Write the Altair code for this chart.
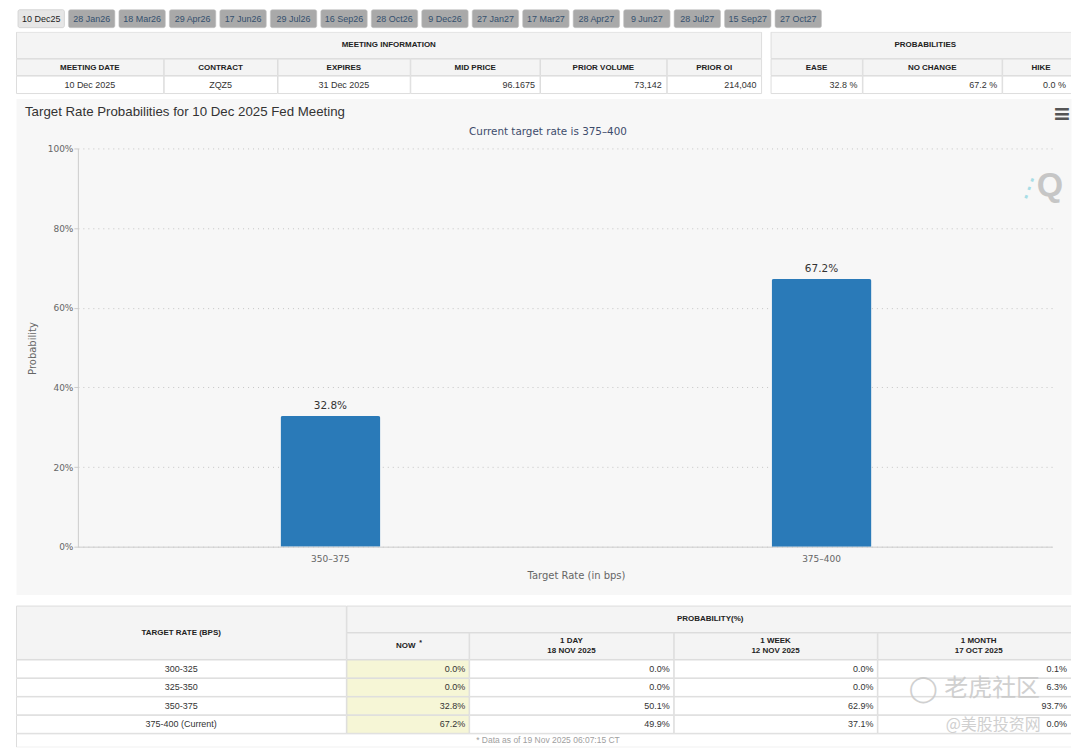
import altair as alt
import pandas as pd

# ---------------- data ----------------
tab_labels = ["10 Dec25", "28 Jan26", "18 Mar26", "29 Apr26", "17 Jun26", "29 Jul26",
              "16 Sep26", "28 Oct26", "9 Dec26", "27 Jan27", "17 Mar27", "28 Apr27",
              "9 Jun27", "28 Jul27", "15 Sep27", "27 Oct27"]
active_tab = "10 Dec25"

meeting_title = "MEETING INFORMATION"
meeting_headers = ["MEETING DATE", "CONTRACT", "EXPIRES", "MID PRICE", "PRIOR VOLUME", "PRIOR OI"]
meeting_values = ["10 Dec 2025", "ZQZ5", "31 Dec 2025", "96.1675", "73,142", "214,040"]
prob_title = "PROBABILITIES"
prob_headers = ["EASE", "NO CHANGE", "HIKE"]
prob_values = ["32.8 %", "67.2 %", "0.0 %"]

chart_title = "Target Rate Probabilities for 10 Dec 2025 Fed Meeting"
chart_subtitle = "Current target rate is 375–400"
target_rates = ["350–375", "375–400"]
probabilities = [32.8, 67.2]
y_ticks = [0, 20, 40, 60, 80, 100]
x_title = "Target Rate (in bps)"
y_title = "Probability"

rate_header = "TARGET RATE (BPS)"
prob_group_header = "PROBABILITY(%)"
period_line1 = ["NOW", "1 DAY", "1 WEEK", "1 MONTH"]
period_line2 = ["", "18 NOV 2025", "12 NOV 2025", "17 OCT 2025"]
table_rates = ["300-325", "325-350", "350-375", "375-400 (Current)"]
prob_now = [0.0, 0.0, 32.8, 67.2]
prob_1day = [0.0, 0.0, 50.1, 49.9]
prob_1week = [0.0, 0.0, 62.9, 37.1]
prob_1month = [0.1, 6.3, 93.7, 0.0]
footnote = "* Data as of 19 Nov 2025 06:07:15 CT"
watermark_1 = "老虎社区"
watermark_2 = "@美股投资网"

# ---------------- layout / style ----------------
W = 1057
TAB_H, TOP_H, MAIN_H, BOT_H = 20, 65, 497, 151
HDR = "#f4f4f4"
WHITE = "#ffffff"
NOWFILL = "#f6f6d6"
BORDER = "#dddddd"
TXT = "#333333"
FONT = "Liberation Sans"
CFONT = "DejaVu Sans"
BAR = "#2a7ab8"

MI = [0, 148, 262, 395, 525, 652, 747]
PR = [756, 848, 988, 1066]
TR = [0, 27, 44, 62]
BE = [0, 331, 454, 659, 863, 1066]
BR = [9, 36, 63, 81.5, 100, 118.5, 137, 151]


def xs():
    return alt.Scale(domain=[0, W], range=[0, W], nice=False, zero=False)


def ys(h):
    return alt.Scale(domain=[0, h], range=[0, h], nice=False, zero=False)


def rect_layer(rows, h):
    df = pd.DataFrame(rows, columns=["x0", "x1", "y0", "y1", "fill"])
    return alt.Chart(df).mark_rect(stroke=BORDER, strokeWidth=1, clip=True,
                                   xOffset=0.5, yOffset=0.5).encode(
        x=alt.X("x0:Q", scale=xs(), axis=None),
        x2="x1:Q",
        y=alt.Y("y0:Q", scale=ys(h), axis=None),
        y2="y1:Q",
        fill=alt.Fill("fill:N", scale=None),
    )


def text_layer(rows, h, align="center", size=9.0, weight="normal", color=TXT, font=FONT,
               opacity=1.0, angle=0):
    df = pd.DataFrame(rows, columns=["tx", "ty", "label"])
    return alt.Chart(df).mark_text(align=align, baseline="middle", font=font, fontSize=size,
                                   fontWeight=weight, color=color, opacity=opacity,
                                   angle=angle).encode(
        x=alt.X("tx:Q", scale=xs(), axis=None),
        y=alt.Y("ty:Q", scale=ys(h), axis=None),
        text="label:N",
    )


# ---------------- tabs ----------------
tabs_df = pd.DataFrame({"tab": tab_labels,
                        "state": ["active" if t == active_tab else "inactive" for t in tab_labels]})
tab_x = alt.X("tab:N", sort=None, axis=None,
              scale=alt.Scale(domain=tab_labels, range=[2, 807], paddingInner=0.08, paddingOuter=0))
tab_rects = alt.Chart(tabs_df).mark_rect(cornerRadius=2, stroke="#c4c4c4", strokeWidth=0.6).encode(
    x=tab_x, y=alt.value(0), y2=alt.value(18),
    fill=alt.Fill("state:N", legend=None,
                  scale=alt.Scale(domain=["active", "inactive"], range=["#e6e6e6", "#a9a9a9"])),
)
tab_texts = alt.Chart(tabs_df).mark_text(font=FONT, fontSize=9, baseline="middle").encode(
    x=tab_x, y=alt.value(9.5), text="tab:N",
    color=alt.Color("state:N", legend=None,
                    scale=alt.Scale(domain=["active", "inactive"], range=["#1e1e1e", "#34506e"])),
)
tabs_chart = alt.layer(tab_rects, tab_texts).properties(width=W, height=TAB_H)

# ---------------- top tables ----------------
top_cells = [(MI[0], MI[-1], TR[0], TR[1], HDR), (PR[0], PR[-1], TR[0], TR[1], HDR)]
for edges, n in ((MI, len(meeting_headers)), (PR, len(prob_headers))):
    for i in range(n):
        top_cells.append((edges[i], edges[i + 1], TR[1], TR[2], HDR))
        top_cells.append((edges[i], edges[i + 1], TR[2], TR[3], WHITE))

ym1, ym2, ym3 = (TR[0] + TR[1]) / 2, (TR[1] + TR[2]) / 2 + 0.5, (TR[2] + TR[3]) / 2
top_bold = [((MI[0] + MI[-1]) / 2, ym1, meeting_title), ((PR[0] + PR[-1]) / 2, ym1, prob_title)]
top_bold += [((MI[i] + MI[i + 1]) / 2, ym2, t) for i, t in enumerate(meeting_headers)]
top_bold += [((PR[i] + PR[i + 1]) / 2, ym2, t) for i, t in enumerate(prob_headers)]
top_center = [((MI[i] + MI[i + 1]) / 2, ym3, meeting_values[i]) for i in range(3)]
top_right = [(MI[i + 1] - 5, ym3, meeting_values[i]) for i in range(3, 6)]
top_right += [(min(PR[i + 1], W) - 5, ym3, t) for i, t in enumerate(prob_values)]

top_chart = alt.layer(
    rect_layer(top_cells, TOP_H),
    text_layer(top_bold, TOP_H, size=8, weight="bold", color="#222222"),
    text_layer(top_center, TOP_H, size=9),
    text_layer(top_right, TOP_H, align="right", size=9),
).properties(width=W, height=TOP_H)

# ---------------- main chart ----------------
bars_df = pd.DataFrame({"rate": target_rates, "prob": probabilities})
x_enc = alt.X(
    "rate:N", sort=None,
    scale=alt.Scale(domain=target_rates, range=[62, 1038], paddingInner=0.7967,
                    paddingOuter=0.3902, align=0.5287),
    axis=alt.Axis(title=x_title, offset=-(MAIN_H - 449), labelAngle=0, ticks=False, tickSize=0,
                  domainColor="#cccccc", labelColor="#666666", labelFont=CFONT, labelFontSize=9,
                  labelPadding=8, titleColor="#666666", titleFont=CFONT, titleFontSize=10,
                  titleFontWeight="normal", titleX=561, titleY=29, titleBaseline="middle"),
)
y_enc = alt.Y(
    "prob:Q",
    scale=alt.Scale(domain=[0, 100], range=[449, 50], nice=False),
    axis=alt.Axis(title=y_title, offset=-62, values=y_ticks, labelExpr="datum.value + '%'",
                  domainColor="#cccccc", tickColor="#cccccc", tickSize=4, labelPadding=1,
                  labelColor="#666666", labelFont=CFONT, labelFontSize=9,
                  gridColor="#c4c4c4", gridDash=[1, 4],
                  titleColor="#666666", titleFont=CFONT, titleFontSize=10, titleFontWeight="normal",
                  titleX=-45, titleY=250, titleBaseline="middle"),
)
bars = alt.Chart(bars_df).mark_bar(color=BAR, cornerRadiusTopLeft=2, cornerRadiusTopRight=2).encode(
    x=x_enc, y=y_enc)
bar_labels = alt.Chart(bars_df).transform_calculate(
    label="format(datum.prob, '.1f') + '%'"
).mark_text(baseline="bottom", dy=-5, font=CFONT, fontSize=10.5, color="#333333").encode(
    x=alt.X("rate:N", sort=None), y="prob:Q", text="label:N")

title_l = alt.Chart(pd.DataFrame({"label": [chart_title]})).mark_text(
    align="left", baseline="middle", font=FONT, fontSize=13.3, color="#333333").encode(
    x=alt.value(9), y=alt.value(14), text="label:N")
subtitle_l = alt.Chart(pd.DataFrame({"label": [chart_subtitle]})).mark_text(
    align="center", baseline="middle", font=CFONT, fontSize=10.4, color="#3d4b6b").encode(
    x=alt.value(533), y=alt.value(34), text="label:N")
menu_l = alt.Chart(pd.DataFrame({"label": ["≡"]})).mark_text(
    align="center", baseline="middle", font=CFONT, fontSize=22, fontWeight="bold", color="#555555").encode(
    x=alt.value(1048), y=alt.value(16), text="label:N")
q_l = alt.Chart(pd.DataFrame({"label": ["Q"]})).mark_text(
    align="center", baseline="middle", font=FONT, fontSize=34, fontWeight="bold", color="#c6c6c6").encode(
    x=alt.value(1036), y=alt.value(88), text="label:N")
q_dash = alt.Chart(pd.DataFrame({"label": ["⋮"]})).mark_text(
    align="center", baseline="middle", font=CFONT, fontSize=26, angle=20, color="#a8dde6").encode(
    x=alt.value(1015), y=alt.value(90), text="label:N")

main_chart = alt.layer(bars, bar_labels, title_l, subtitle_l, menu_l, q_dash, q_l).properties(
    width=W, height=MAIN_H, view=alt.ViewBackground(fill="#f7f7f7", stroke="transparent"))

# ---------------- bottom table ----------------
bot_cells = [(BE[0], BE[1], BR[0], BR[2], HDR), (BE[1], BE[-1], BR[0], BR[1], HDR)]
for i in range(1, 5):
    bot_cells.append((BE[i], BE[i + 1], BR[1], BR[2], HDR))
for r in range(4):
    for c in range(5):
        bot_cells.append((BE[c], BE[c + 1], BR[2 + r], BR[3 + r], NOWFILL if c == 1 else WHITE))
bot_cells.append((BE[0], BE[-1], BR[6], BR[7], WHITE))

bot_bold = [((BE[0] + BE[1]) / 2, (BR[0] + BR[2]) / 2, rate_header),
            ((BE[1] + BE[-1]) / 2 - 3, (BR[0] + BR[1]) / 2, prob_group_header),
            ((BE[1] + BE[2]) / 2 - 2, (BR[1] + BR[2]) / 2, period_line1[0])]
for i in range(1, 4):
    cx = (BE[i + 1] + BE[i + 2]) / 2
    bot_bold.append((cx, BR[1] + 8.5, period_line1[i]))
    bot_bold.append((cx, BR[1] + 18.5, period_line2[i]))
star = [((BE[1] + BE[2]) / 2 + 13, (BR[1] + BR[2]) / 2 - 3, "*")]

series = [prob_now, prob_1day, prob_1week, prob_1month]
bot_center = [((BE[0] + BE[1]) / 2, (BR[2 + r] + BR[3 + r]) / 2, table_rates[r]) for r in range(4)]
bot_right = []
for c, s in enumerate(series):
    for r in range(4):
        bot_right.append((min(BE[c + 2], W) - 4, (BR[2 + r] + BR[3 + r]) / 2, f"{s[r]:.1f}%"))
foot = [(533, (BR[6] + BR[7]) / 2, footnote)]
wm1 = [(978, 93, watermark_1)]
wm2 = [(979, 129, watermark_2)]
wm_icon = [(909, 93, "◯")]

bottom_chart = alt.layer(
    rect_layer(bot_cells, BOT_H),
    text_layer(bot_bold, BOT_H, size=8, weight="bold", color="#222222"),
    text_layer(star, BOT_H, size=7, weight="bold", color="#222222"),
    text_layer(bot_center, BOT_H, size=9),
    text_layer(bot_right, BOT_H, align="right", size=9),
    text_layer(foot, BOT_H, size=8.5, color="#a0a0a0"),
    text_layer(wm_icon, BOT_H, size=26, color="#c8c8c8", font=CFONT, opacity=0.85),
    text_layer(wm1, BOT_H, size=24, color="#c8c8c8", font="Noto Sans CJK SC", opacity=0.85),
    text_layer(wm2, BOT_H, size=16, color="#c8c8c8", font="Noto Sans CJK SC", opacity=0.85),
).properties(width=W, height=BOT_H)

chart = alt.vconcat(tabs_chart, top_chart, main_chart, bottom_chart, spacing=0).properties(
    padding={"left": 7, "top": 0, "right": 0, "bottom": 0},
    background="white",
).configure_view(stroke="transparent")

chart.save("out.html", embed_options={"renderer": "svg", "actions": False})
